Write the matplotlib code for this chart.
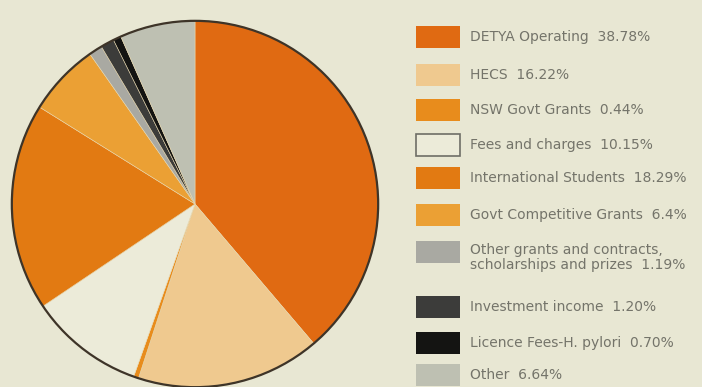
import matplotlib.pyplot as plt
from matplotlib.patches import Rectangle, Circle

# Income sources (per cent of total)
labels = ['DETYA Operating', 'HECS', 'NSW Govt Grants', 'Fees and charges',
          'International Students', 'Govt Competitive Grants',
          'Other grants and contracts,\nscholarships and prizes',
          'Investment income', 'Licence Fees-H. pylori', 'Other']
shares = [38.78, 16.22, 0.44, 10.15, 18.29, 6.4, 1.19, 1.20, 0.70, 6.64]
share_text = ['38.78%', '16.22%', '0.44%', '10.15%', '18.29%', '6.4%',
              '1.19%', '1.20%', '0.70%', '6.64%']
colors = ['#E06A12', '#EFC98F', '#E88C1C', '#ECEBD9', '#E27A12', '#EBA034',
          '#A9A9A2', '#3C3C3A', '#141412', '#BEC0B2']

bg = '#E8E7D3'
fig = plt.figure(figsize=(7.02, 3.87), dpi=100, facecolor=bg)

# pie
ax = fig.add_axes([10 / 702, -2 / 387, 370 / 702, 370 / 387])
ax.set_facecolor(bg)
ax.pie(shares, colors=colors, startangle=90, counterclock=False,
       wedgeprops=dict(linewidth=0.4, edgecolor='#E8D8B0'))
ax.add_patch(Circle((0, 0), 1.0, fill=False, edgecolor='#3E3428', linewidth=1.6))
ax.set_xlim(-1.01, 1.01)
ax.set_ylim(-1.01, 1.01)
ax.set_aspect('equal')
ax.axis('off')

# legend
lg = fig.add_axes([0, 0, 1, 1], facecolor='none')
lg.set_xlim(0, 702)
lg.set_ylim(387, 0)
lg.axis('off')
row_y = [37, 75, 110, 145, 178, 215, 252, 307, 343, 375]
fs = 10
tc = '#74746A'
for lab, txt, c, y in zip(labels, share_text, colors, row_y):
    edge = '#6E6E66' if lab == 'Fees and charges' else c
    lg.add_patch(Rectangle((416, y - 11), 44, 22, facecolor=c, edgecolor=edge,
                           linewidth=1.2 if edge != c else 0))
    if '\n' in lab:
        first, second = lab.split('\n')
        lg.text(470, y - 2, first, va='center', ha='left', fontsize=fs, color=tc)
        lg.text(470, y + 13, second + '  ' + txt, va='center', ha='left',
                fontsize=fs, color=tc)
    else:
        lg.text(470, y, lab + '  ' + txt, va='center', ha='left', fontsize=fs,
                color=tc)

fig.savefig('out.png', dpi=100, facecolor=bg)
